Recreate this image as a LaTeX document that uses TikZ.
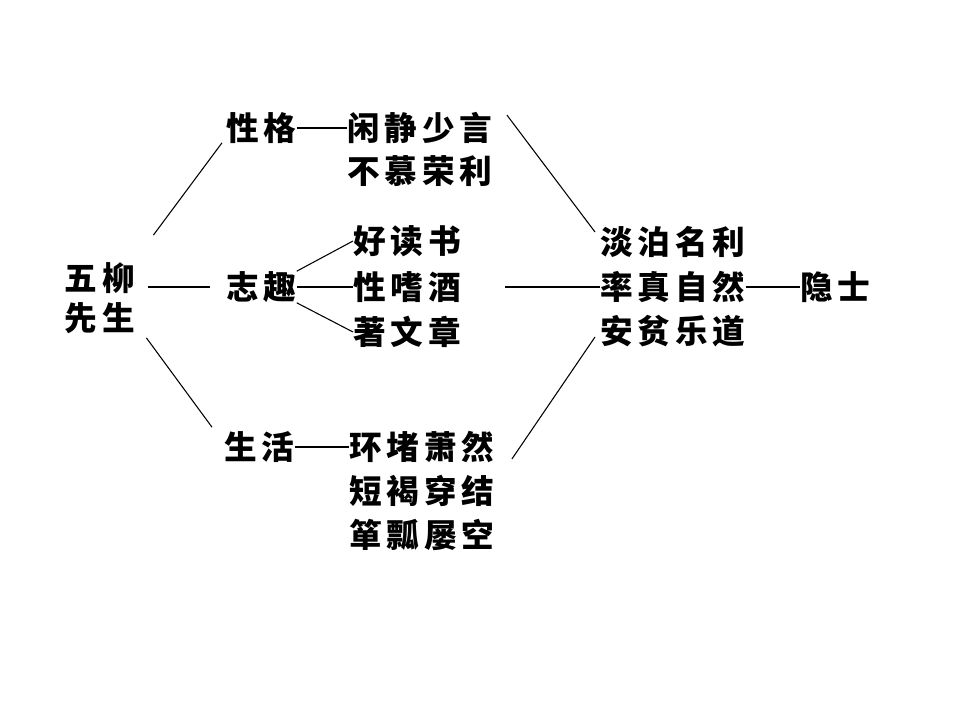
\documentclass[tikz,border=0pt]{standalone}
\usepackage{fontspec}
\newfontfamily\cjk[LetterSpace=15]{Noto Sans CJK SC}
\usetikzlibrary{positioning,calc}

\begin{document}
\begin{tikzpicture}[
    x=0.75pt, y=-0.75pt,
    txt/.style={inner sep=0pt, anchor=west, font={\cjk\bfseries\fontsize{24.5}{30}\selectfont}},
    hline/.style={line width=1.4pt},
    dline/.style={line width=0.8pt}
]
\useasboundingbox (0,0) rectangle (960,720);

% Wu Liu xiansheng
\node[txt, anchor=center, align=center] (wl) at (100,298) {五柳\\先生};

% Personality
\node[txt] (xg) at (226,128) {性格};
\node[txt] (xj1) at (347,128) {闲静少言};
\node[txt] (xj2) at (347,171) {不慕荣利};

% Interests
\node[txt] (zq) at (226,287) {志趣};
\node[txt] (zq1) at (353,241) {好读书};
\node[txt] (zq2) at (353,287) {性嗜酒};
\node[txt] (zq3) at (353,332) {著文章};

% Life
\node[txt] (sh) at (224,447) {生活};
\node[txt] (sh1) at (349,447) {环堵萧然};
\node[txt] (sh2) at (349,491) {短褐穿结};
\node[txt] (sh3) at (349,535) {箪瓢屡空};

% Summary
\node[txt] (jl1) at (600,242) {淡泊名利};
\node[txt] (jl2) at (600,287) {率真自然};
\node[txt] (jl3) at (600,331) {安贫乐道};
\node[txt] (ys) at (800,287) {隐士};

% Lines
\draw[dline] ($(wl.north east)+(18,-27)$) -- ($(xg.south west)+(-4,-1)$);
\draw[hline] ($(wl.east |- zq.west)+(13,0)$) -- ($(zq.west)+(-16,0)$);
\draw[dline] ($(wl.south east)+(11,4)$) -- ($(sh.north west)+(-12,-4)$);
\draw[hline] (xg.east) -- (xg.east -| xj1.west);
\draw[dline] (zq.north east) -- (zq1.west);
\draw[hline] (zq.east) -- (zq.east -| zq2.west);
\draw[dline] (zq.south east) -- (zq3.west);
\draw[hline] (sh.east) -- (sh.east -| sh1.west);
\draw[dline] ($(xj1.north east)+(14,3)$) -- ($(jl1.west)+(-5,-10)$);
\draw[hline] ($(zq2.east)+(44,0)$) -- (zq2.east -| jl2.west);
\draw[dline] ($(sh1.east)+(17,12)$) -- ($(jl3.west)+(-5,6)$);
\draw[hline] (jl2.east) -- (jl2.east -| ys.west);
\end{tikzpicture}
\end{document}
